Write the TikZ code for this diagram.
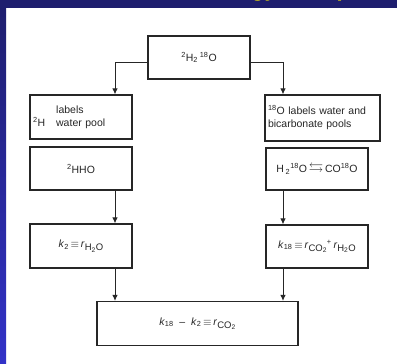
\documentclass[tikz,border=0pt]{standalone}
\usepackage{amssymb}
\usepackage{fontspec}
\setmainfont{Liberation Sans}
\usetikzlibrary{arrows.meta}
\definecolor{navy}{HTML}{1E1E6E}
\definecolor{bluebot}{HTML}{3232C8}
\definecolor{ink}{HTML}{262626}
\definecolor{titleyellow}{HTML}{FFEE00}
\newcommand{\lsub}[1]{\raisebox{-0.55ex}{\fontsize{9.5}{10}\selectfont #1}}
\begin{document}
\begin{tikzpicture}[x=1pt,y=1pt,
  box/.style={draw=ink, line width=1.2pt, text=ink, minimum width=102pt, minimum height=43pt,
    align=center, inner sep=2pt, font=\fontsize{10.5}{13}\selectfont},
  lbox/.style={box, text width=#1, align=left, inner xsep=3pt, minimum width=0pt},
  arr/.style={draw=ink, line width=1pt, -{Latex[length=6pt,width=5.5pt]}},
  titlefont/.style={anchor=base west, inner sep=0pt, text=titleyellow, font=\fontsize{22}{24}\bfseries\selectfont}]
\useasboundingbox (0,0) rectangle (397,-364);
% background
\fill[white] (0,0) rectangle (397,-364);
\fill[navy] (0,0) rectangle (397,-7.5);
\shade[top color=navy, bottom color=bluebot] (0,-7.5) rectangle (6,-364);
\begin{scope}
  \clip (0,0) rectangle (397,-7.5);
  \node[titlefont] (tgy) at (251,3) {gy};
  \node[titlefont] (tp) at (336.5,3) {p};
\end{scope}
% column coordinates
\coordinate (cl) at (115,0);
\coordinate (cr) at (283,0);
% nodes
\node[box, minimum height=43pt] (top) at (199,-57.5) {\textsuperscript{2}H\textsubscript{2}\,\textsuperscript{18}O};
\node[lbox=96pt, minimum height=44pt] (L1) at (81,-117) {\phantom{\textsuperscript{2}H}\hspace{11pt}labels\\\textsuperscript{2}H\hspace{11pt}water pool};
\node[box] (L2) at (81,-168.5) {\textsuperscript{2}HHO};
\node[box, minimum height=44pt] (L3) at (81,-246) {\textit{k}\textsubscript{2}\,$\equiv$\,\textit{r}\lsub{H\textsubscript{2}O}};
\node[lbox=109pt, minimum height=46pt] (R1) at (322.5,-118) {\textsuperscript{18}O labels water and\\bicarbonate pools};
\node[box, minimum height=42pt] (R2) at (317,-169) {H\,\textsubscript{2}\textsuperscript{18}O\,{\Large$\leftrightarrows$}\,CO\textsuperscript{18}O};
\node[box] (R3) at (317,-246.5) {\textit{k}\textsubscript{18}$\,\equiv$\,\textit{r}\lsub{CO\textsubscript{2}}\textsuperscript{+}\,\textit{r}\lsub{H\textsubscript{2}O}};
\node[box, minimum width=201pt, minimum height=44pt] (B) at (197.5,-323.5) {\textit{k}\textsubscript{18}\ \ --\ \ \textit{k}\textsubscript{2}\,$\equiv$\,\textit{r}\lsub{CO\textsubscript{2}}};
% connectors
\draw[arr] ([yshift=-4.5pt]top.west) -| (L1.north -| cl);
\draw[arr] ([yshift=-4.5pt]top.east) -| (R1.north -| cr);
\draw[arr] (L2.south -| cl) -- (L3.north -| cl);
\draw[arr] (R2.south -| cr) -- (R3.north -| cr);
\draw[arr] (L3.south -| cl) -- (B.north -| cl);
\draw[arr] (R3.south -| cr) -- (B.north -| cr);
\end{tikzpicture}
\end{document}
